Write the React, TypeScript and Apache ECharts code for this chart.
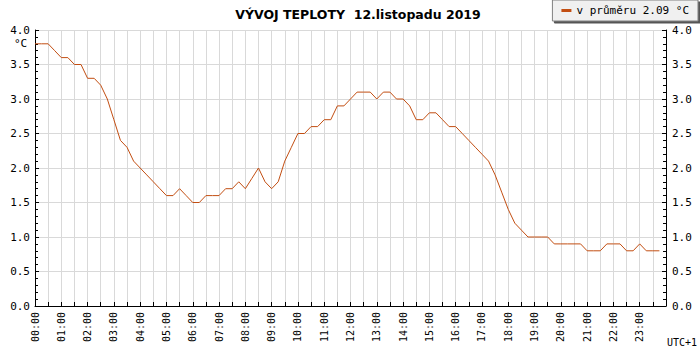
import React, { useEffect, useRef } from "react";
import * as echarts from "echarts";

const TITLE = "VÝVOJ TEPLOTY  12.listopadu 2019";
const SERIES_NAME = "v průměru 2.09 °C";
const STEP_HOURS = 0.25; // one reading every 15 minutes
const temps: number[] = [
  3.8, 3.8, 3.8, 3.7,
  3.6, 3.6, 3.5, 3.5,
  3.3, 3.3, 3.2, 3.0,
  2.7, 2.4, 2.3, 2.1,
  2.0, 1.9, 1.8, 1.7,
  1.6, 1.6, 1.7, 1.6,
  1.5, 1.5, 1.6, 1.6,
  1.6, 1.7, 1.7, 1.8,
  1.7, 1.85, 2.0, 1.8,
  1.7, 1.8, 2.1, 2.3,
  2.5, 2.5, 2.6, 2.6,
  2.7, 2.7, 2.9, 2.9,
  3.0, 3.1, 3.1, 3.1,
  3.0, 3.1, 3.1, 3.0,
  3.0, 2.9, 2.7, 2.7,
  2.8, 2.8, 2.7, 2.6,
  2.6, 2.5, 2.4, 2.3,
  2.2, 2.1, 1.9, 1.65,
  1.4, 1.2, 1.1, 1.0,
  1.0, 1.0, 1.0, 0.9,
  0.9, 0.9, 0.9, 0.9,
  0.8, 0.8, 0.8, 0.9,
  0.9, 0.9, 0.8, 0.8,
  0.9, 0.8, 0.8, 0.8,
];
const yTicks = ["0.0", "0.5", "1.0", "1.5", "2.0", "2.5", "3.0", "3.5", "4.0"];

const MONO = "DejaVu Sans Mono";
const LINE_COLOR = "#c24e12";

export default function App() {
  const ref = useRef<HTMLDivElement>(null);
  useEffect(() => {
    if (!ref.current) return;
    const chart = echarts.init(ref.current, undefined, { renderer: "svg" });
    const data = temps.map((t, i) => [i * STEP_HOURS, t]);
    const yAxisCommon = {
      type: "value" as const,
      min: 0,
      max: 4,
      interval: 0.5,
      axisLine: { show: true, lineStyle: { color: "#000", width: 1 } },
      axisTick: { show: true, inside: true, length: 4, lineStyle: { color: "#000" } },
      minorTick: { show: true, splitNumber: 5, length: 3, lineStyle: { color: "#000" } },
      axisLabel: {
        fontFamily: MONO,
        fontSize: 11,
        color: "#000",
        formatter: (v: number) => yTicks[Math.round(v * 2)] ?? "",
      },
    };
    chart.setOption({
      animation: false,
      backgroundColor: "#fff",
      title: {
        text: TITLE,
        left: 353,
        textAlign: "center",
        top: 3,
        textStyle: { fontFamily: "DejaVu Sans", fontWeight: "bold", fontSize: 12.5, color: "#000" },
      },
      legend: {
        right: 2,
        top: 0,
        padding: [5, 9, 5, 9],
        itemWidth: 10,
        itemHeight: 3,
        itemGap: 6,
        icon: "rect",
        backgroundColor: "#f0f0f0",
        borderColor: "#808080",
        borderWidth: 1,
        shadowColor: "#555",
        shadowOffsetX: 2,
        shadowOffsetY: 2,
        shadowBlur: 0,
        textStyle: { fontFamily: MONO, fontSize: 11, color: "#000" },
        data: [SERIES_NAME],
      },
      grid: { left: 35, right: 34, top: 30, bottom: 44, containLabel: false },
      xAxis: {
        type: "value",
        min: 0,
        max: 24,
        interval: 0.5,
        axisLine: { show: true, onZero: false, lineStyle: { color: "#000", width: 1 } },
        axisTick: { show: true, inside: true, length: 4, lineStyle: { color: "#000" } },
        splitLine: { show: true, lineStyle: { color: "#d9d9d9", width: 1 } },
        axisLabel: {
          rotate: 90,
          margin: 6,
          fontFamily: MONO,
          fontSize: 10,
          color: "#000",
          showMaxLabel: false,
          formatter: (v: number) =>
            Number.isInteger(v) && v < 24 ? `${String(v).padStart(2, "0")}:00` : "",
        },
      },
      yAxis: [
        {
          ...yAxisCommon,
          position: "left",
          axisLabel: { ...yAxisCommon.axisLabel, margin: 5 },
          splitLine: { show: true, lineStyle: { color: "#d9d9d9", width: 1 } },
        },
        {
          ...yAxisCommon,
          position: "right",
          axisLabel: { ...yAxisCommon.axisLabel, margin: 6 },
          splitLine: { show: false },
        },
      ],
      graphic: [
        {
          type: "text",
          left: 14,
          top: 38,
          style: { text: "°C", fontFamily: MONO, fontSize: 11, fill: "#000" },
        },
        {
          type: "text",
          left: 667,
          top: 337,
          style: { text: "UTC+1", fontFamily: MONO, fontSize: 10, fill: "#000" },
        },
      ],
      series: [
        {
          name: SERIES_NAME,
          type: "line",
          data,
          showSymbol: false,
          symbol: "none",
          lineStyle: { color: LINE_COLOR, width: 1 },
          itemStyle: { color: LINE_COLOR },
        },
      ],
    });
    return () => chart.dispose();
  }, []);
  return (
    <div
      ref={ref}
      style={{ position: "fixed", left: 0, top: 0, width: 700, height: 350 }}
    />
  );
}
